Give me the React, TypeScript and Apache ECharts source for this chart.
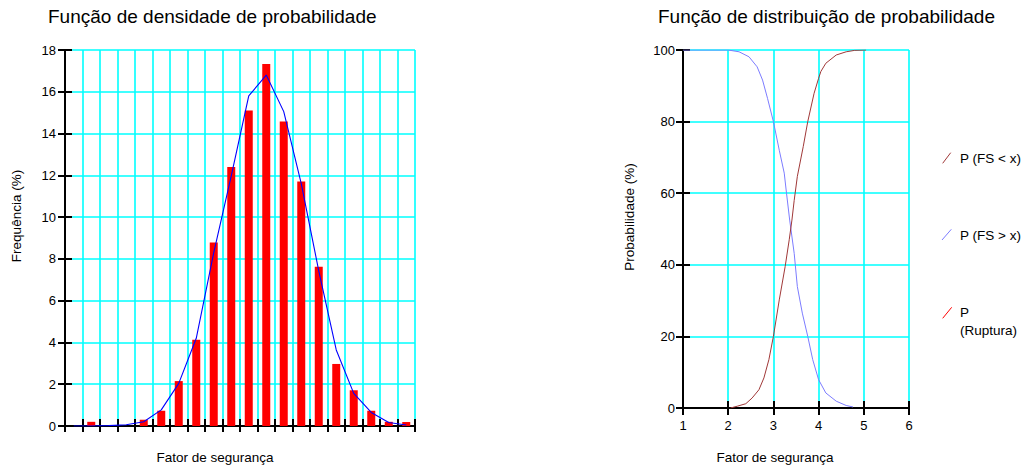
import React, { useEffect, useRef } from "react";
import * as echarts from "echarts";

const FONT = "'Liberation Sans', Arial, sans-serif";

// Left chart: histogram of the safety factor (20 classes)
const densCategories = [
  "1", "2", "3", "4", "5", "6", "7", "8", "9", "10",
  "11", "12", "13", "14", "15", "16", "17", "18", "19", "20",
];
const densBars = [
  0, 0.2, 0, 0, 0.3, 0.73, 2.15, 4.13, 8.79, 12.4,
  15.1, 17.33, 14.58, 11.7, 7.62, 2.97, 1.71, 0.73, 0.2, 0.19,
];
const densCurve = [
  0, 0, 0.02, 0.06, 0.2, 0.77, 2.04, 4.2, 8.3, 11.97,
  15.8, 16.8, 15.05, 11.6, 7.43, 3.64, 1.56, 0.65, 0.17, 0.05,
];
const densYTicks = { min: 0, max: 18, interval: 2 };

// Right chart: cumulative distributions [FS, %]
const pLess: [number, number][] = [
  [2.05, 0], [2.2, 0.5], [2.39, 1.2], [2.53, 2.8], [2.68, 5.1], [2.79, 8.4],
  [2.9, 13.5], [3.0, 20], [3.13, 30.2], [3.26, 39.5], [3.35, 47], [3.41, 52.5],
  [3.46, 58], [3.53, 64.7], [3.66, 73], [3.76, 80], [3.9, 87.9], [4.0, 92.1],
  [4.05, 94], [4.16, 96.3], [4.39, 98.6], [4.61, 99.5], [4.8, 99.9], [5.05, 100],
];
const pGreater: [number, number][] = [
  [1, 100], [2.0, 100], [2.24, 99.5], [2.46, 98.1], [2.64, 95.3], [2.76, 91.6],
  [2.87, 86.5], [3.0, 80], [3.13, 72], [3.24, 65.6], [3.29, 60], [3.36, 52.5],
  [3.46, 43.2], [3.53, 33.9], [3.64, 26.5], [3.76, 20], [3.87, 13.5], [4.0, 7.9],
  [4.16, 4.2], [4.39, 1.9], [4.61, 0.7], [4.76, 0.3],
];
const distXTicks = { min: 1, max: 6, interval: 1 };
const distYTicks = { min: 0, max: 100, interval: 20 };

const titles = ["Função de densidade de probabilidade", "Função de distribuição de probabilidade"];
const axisNames = ["Frequência (%)", "Fator de segurança", "Probabilidade (%)", "Fator de segurança"];
const legendNames = ["P (FS < x)", "P (FS > x)", "P\n(Ruptura)"];
const legendColors = ["#a03838", "#7c7cff", "#ff0000"];

const BLACK = "#000000";
const CYAN = "#00ffff";
const GRID_W = 1.6;

function valueAxisPair(grid: number, range: any, dim: "x" | "y", showLabels: boolean, labelMargin: number) {
  const base = {
    type: "value",
    gridIndex: grid,
    min: range.min,
    max: range.max,
    interval: range.interval,
    position: dim === "x" ? "bottom" : "left",
  };
  return [
    {
      ...base,
      axisLine: { show: true, onZero: false, lineStyle: { color: BLACK, width: 2 } },
      axisTick: { show: true, inside: dim === "x", length: 7, lineStyle: { color: BLACK, width: 2 } },
      axisLabel: {
        show: showLabels,
        margin: labelMargin,
        color: BLACK,
        fontSize: 13,
        fontFamily: FONT,
      },
      splitLine: { show: true, lineStyle: { color: CYAN, width: GRID_W } },
    },
    {
      ...base,
      axisLine: { show: false, onZero: false },
      axisTick: { show: true, inside: dim !== "x", length: 7, lineStyle: { color: BLACK, width: 2 } },
      axisLabel: { show: false },
      splitLine: { show: false },
    },
  ];
}

function txt(text: string, x: number, y: number, size: number, rotate = false, align = "center", vAlign = "middle") {
  return {
    type: "text",
    x,
    y,
    rotation: rotate ? Math.PI / 2 : 0,
    z: 10,
    style: {
      text,
      fill: BLACK,
      font: `${size}px ${FONT}`,
      fontSize: size,
      fontFamily: FONT,
      textAlign: align,
      align,
      textVerticalAlign: vAlign,
      verticalAlign: vAlign,
      lineHeight: 18,
    },
  };
}

export default function App() {
  const ref = useRef<HTMLDivElement>(null);
  useEffect(() => {
    if (!ref.current) return;
    const chart = echarts.init(ref.current, null, { renderer: "svg" });

    const leftY = valueAxisPair(0, densYTicks, "y", true, 9);
    const rightX = valueAxisPair(1, distXTicks, "x", true, 11);
    const rightY = valueAxisPair(1, distYTicks, "y", true, 8);

    const option: any = {
      animation: false,
      backgroundColor: "#ffffff",
      textStyle: { fontFamily: FONT },
      title: [
        {
          text: titles[0],
          left: 48,
          top: 7,
          padding: 0,
          textStyle: { fontSize: 19, fontWeight: "normal", color: BLACK, fontFamily: FONT },
        },
        {
          text: titles[1],
          left: 658,
          top: 7,
          padding: 0,
          textStyle: { fontSize: 19, fontWeight: "normal", color: BLACK, fontFamily: FONT },
        },
      ],
      grid: [
        { left: 65, top: 50, width: 350, height: 376, containLabel: false, outerBoundsMode: "none" },
        { left: 683, top: 50, width: 226, height: 358, containLabel: false, outerBoundsMode: "none" },
      ],
      xAxis: [
        {
          type: "category",
          gridIndex: 0,
          position: "bottom",
          data: densCategories,
          boundaryGap: true,
          axisLine: { show: true, onZero: false, lineStyle: { color: BLACK, width: 2 } },
          axisTick: { show: true, inside: true, interval: 0, length: 7, lineStyle: { color: BLACK, width: 2 } },
          axisLabel: { show: false },
          splitLine: { show: true, interval: 0, lineStyle: { color: CYAN, width: GRID_W } },
        },
        {
          type: "category",
          gridIndex: 0,
          position: "bottom",
          data: densCategories,
          boundaryGap: true,
          axisLine: { show: false, onZero: false },
          axisTick: { show: true, inside: false, interval: 0, length: 6, lineStyle: { color: BLACK, width: 2 } },
          axisLabel: { show: false },
          splitLine: { show: false },
        },
        ...rightX,
      ],
      yAxis: [...leftY, ...rightY],
      series: [
        {
          type: "bar",
          name: "Frequência",
          xAxisIndex: 0,
          yAxisIndex: 0,
          data: densBars,
          barWidth: 8,
          itemStyle: { color: "#ff0000" },
          z: 2,
        },
        {
          type: "line",
          name: "Curva",
          xAxisIndex: 0,
          yAxisIndex: 0,
          data: densCurve,
          showSymbol: false,
          symbol: "none",
          lineStyle: { color: "#0000ff", width: 1.1 },
          itemStyle: { color: "#0000ff" },
          z: 3,
        },
        {
          type: "line",
          name: legendNames[1],
          xAxisIndex: 2,
          yAxisIndex: 2,
          data: pGreater,
          showSymbol: false,
          symbol: "none",
          lineStyle: { color: legendColors[1], width: 1 },
          itemStyle: { color: legendColors[1] },
          z: 3,
        },
        {
          type: "line",
          name: legendNames[0],
          xAxisIndex: 2,
          yAxisIndex: 2,
          data: pLess,
          showSymbol: false,
          symbol: "none",
          lineStyle: { color: legendColors[0], width: 1 },
          itemStyle: { color: legendColors[0] },
          z: 3,
        },
      ],
      graphic: [
        txt(axisNames[0], 16, 216, 13.5, true),
        txt(axisNames[1], 215, 457, 13.5),
        txt(axisNames[2], 629, 217, 13.5, true),
        txt(axisNames[3], 775, 457, 13.5),
        { type: "line", shape: { x1: 942.7, y1: 163.3, x2: 950.7, y2: 152.7 }, style: { stroke: legendColors[0], lineWidth: 1 } },
        { type: "line", shape: { x1: 942, y1: 240, x2: 951.3, y2: 229.3 }, style: { stroke: legendColors[1], lineWidth: 1 } },
        { type: "line", shape: { x1: 942.7, y1: 318.3, x2: 951.7, y2: 307.3 }, style: { stroke: legendColors[2], lineWidth: 1 } },
        txt(legendNames[0], 960, 158, 13.5, false, "left", "middle"),
        txt(legendNames[1], 960, 235, 13.5, false, "left", "middle"),
        txt(legendNames[2], 960, 303, 13.5, false, "left", "top"),
      ],
    };
    chart.setOption(option);
    return () => chart.dispose();
  }, []);
  return (
    <div
      ref={ref}
      style={{ position: "fixed", left: 0, top: 0, width: 1029, height: 468, background: "#fff" }}
    />
  );
}
